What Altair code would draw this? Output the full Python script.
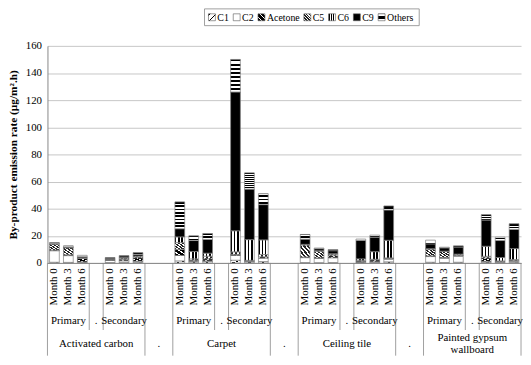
import altair as alt
import pandas as pd

# ---------------- data ----------------
materials = ["Activated carbon", "Carpet", "Ceiling tile", "Painted gypsum\nwallboard"]
groups = ["Primary", "Secondary"]
months = ["Month 0", "Month 3", "Month 6"]
series = ["C1", "C2", "Acetone", "C5", "C6", "C9", "Others"]
y_ticks = [0, 20, 40, 60, 80, 100, 120, 140, 160]

# one value per bar, ordered material -> Primary/Secondary -> Month 0/3/6
C1 = [0.5, 0.4, 0.5, 0.3, 0.4, 0.5,
      1.5, 0.8, 1.0, 2.0, 0.8, 1.0,
      0.3, 0.2, 0.3, 0.3, 0.4, 0.8,
      0.5, 0.3, 0.5, 0.6, 0.4, 0.5]
C2 = [8.5, 5.0, 0.3, 1.5, 1.2, 0.8,
      4.0, 0.5, 0.5, 3.5, 0.5, 2.5,
      3.6, 3.2, 3.5, 0.3, 0.5, 2.0,
      4.2, 3.2, 4.5, 0.6, 0.3, 0.8]
Acetone = [0.5, 0.6, 2.5, 0.3, 1.0, 2.5,
           4.5, 0.7, 1.5, 0.7, 0.3, 1.0,
           0.5, 0.3, 1.5, 0.7, 1.3, 0.6,
           0.5, 0.5, 0.5, 2.5, 0.4, 0.6]
C5 = [4.5, 5.2, 0.5, 0.3, 1.0, 0.8,
      5.0, 1.0, 2.0, 2.0, 0.3, 1.7,
      8.8, 5.0, 1.0, 0.5, 0.5, 0.3,
      5.0, 4.5, 0.5, 1.2, 0.4, 0.6]
C6 = [0.0, 0.2, 0.0, 0.2, 0.2, 0.5,
      4.2, 5.4, 2.2, 15.5, 15.3, 10.8,
      0.5, 0.3, 0.5, 1.2, 5.6, 13.0,
      0.3, 0.2, 0.5, 7.4, 2.5, 8.1]
C9 = [0.3, 0.4, 0.8, 0.6, 0.6, 1.2,
      6.0, 8.1, 10.1, 102.3, 37.2, 26.0,
      3.8, 1.5, 2.2, 13.6, 10.7, 22.3,
      3.5, 2.4, 5.2, 19.3, 12.5, 14.1]
Others = [0.7, 0.8, 1.0, 0.8, 1.0, 1.3,
          19.8, 3.5, 4.4, 24.0, 12.0, 8.0,
          3.5, 0.5, 0.8, 1.0, 1.5, 3.0,
          2.8, 0.5, 0.9, 4.0, 2.5, 4.2]
values = {"C1": C1, "C2": C2, "Acetone": Acetone, "C5": C5,
          "C6": C6, "C9": C9, "Others": Others}

# ---------------- layout / style ----------------
FONT = "Liberation Serif"
GRID = "#c6c6c6"
AXISC = "#868686"
W, H = 480, 220
NM = len(months)
BLOCK = 2 * NM + 1                 # slots per material (incl. '.' slot)
GAP = 2                            # empty slots between materials
STEP = BLOCK + GAP
N = len(materials) * STEP - GAP
SW = W / N                         # slot width in px
PX2Y = (y_ticks[-1] - y_ticks[0]) / H   # data units per pixel


def slot_of(m, g, k):
    return m * STEP + g * (NM + 1) + k


rows = []
bar_i = 0
for m in range(len(materials)):
    for g in range(len(groups)):
        for k in range(NM):
            for s_i, s in enumerate(series):
                rows.append(dict(slot=slot_of(m, g, k), series=s, order=s_i,
                                 value=values[s][bar_i]))
            bar_i += 1
df = pd.DataFrame(rows)

slot_labels = [""] * N
for m in range(len(materials)):
    for g in range(len(groups)):
        for k, mo in enumerate(months):
            slot_labels[slot_of(m, g, k)] = mo
label_expr = "[" + ",".join("'%s'" % l for l in slot_labels) + "][datum.value]"


def stripes(bg, line, n, frac, x1, y1, x2, y2):
    st = []
    for i in range(n):
        a, b, c = i / n, (i + frac) / n, (i + 1) / n
        st += [(a, line), (b, line), (b, bg), (c, bg)]
    return alt.LinearGradient(
        gradient="linear",
        stops=[alt.GradientStop(color=col, offset=round(o, 4)) for o, col in st],
        x1=x1, y1=y1, x2=x2, y2=y2)


fills = {
    "C1": stripes("#ffffff", "#000000", 2, 0.25, 0, 0, 1, 1),
    "C2": "#ffffff",
    "Acetone": stripes("#000000", "#ffffff", 3, 0.3, 1, 0, 0, 1),
    "C5": stripes("#ffffff", "#222222", 5, 0.55, 0, 1, 1, 0),
    "C6": stripes("#ffffff", "#000000", 3, 0.45, 0, 0, 1, 0),
    "C9": "#000000",
    "Others": stripes("#ffffff", "#000000", 8, 0.5, 0, 0, 0, 1),
}

xband = alt.Scale(domain=list(range(N)), paddingInner=0.3, paddingOuter=0.15)
xaxis = alt.Axis(title=None, labelExpr=label_expr, labelAngle=270, ticks=False,
                 domainColor=AXISC, labelFont=FONT, labelFontSize=11,
                 labelColor="#000000", labelPadding=5, grid=False)
yscale = alt.Scale(domain=[y_ticks[0], y_ticks[-1]], nice=False)
yaxis = alt.Axis(title="By-product emission rate (μg/m².h)", values=y_ticks,
                 titleFont=FONT, titleFontSize=11.5, titleFontWeight="bold",
                 titleColor="#000000", titlePadding=7,
                 labelFont=FONT, labelFontSize=11, labelColor="#000000",
                 labelPadding=6, ticks=False, domainColor=AXISC,
                 gridColor=GRID, gridWidth=1)


def X(field="slot:O"):
    return alt.X(field, scale=xband, axis=xaxis)


def Y(field):
    return alt.Y(field, scale=yscale, axis=yaxis)


base = alt.Chart(df).transform_stack(
    stack="value", groupby=["slot"],
    sort=[alt.SortField("order", order="ascending")], as_=["y0", "y1"])

layers = []
for s in series:
    layers.append(
        base.transform_filter(alt.datum.series == s)
        .mark_bar(fill=fills[s], stroke="#7f7f7f", strokeWidth=0.7)
        .encode(x=X(), y=Y("y0:Q"), y2="y1:Q"))

# category separators (left / right edges of slots) and group labels
full_left, full_right, grp_left, grp_right = [], [], [], []
grp_rows, mat_rows, mat_dots = [], [], []
for m, mat in enumerate(materials):
    s0 = m * STEP
    full_left.append(s0)
    full_right.append(s0 + BLOCK - 1)
    grp_left.append(s0 + NM)
    grp_right.append(s0 + NM)
    grp_rows += [dict(slot=s0 + NM // 2, t=groups[0]),
                 dict(slot=s0 + NM, t="."),
                 dict(slot=s0 + NM + 1 + NM // 2, t=groups[1])]
    lines = mat.split("\n")
    for j, ln in enumerate(lines):
        mat_rows.append(dict(slot=s0 + BLOCK // 2, t=ln, j=j, n=len(lines)))
    if m < len(materials) - 1:
        mat_dots.append(dict(slot=s0 + BLOCK, t="."))
mat_df = pd.DataFrame(mat_rows)


def sep_layer(slots, side, length):
    # separator lines below the axis, extending `length` px under the baseline
    d = pd.DataFrame({"slot": slots, "ya": 0.0, "yb": -length * PX2Y})
    return alt.Chart(d).mark_rule(
        color=AXISC, strokeWidth=0.8, xOffset=side * SW / 2).encode(
        x=X(), y=Y("ya:Q"), y2="yb:Q")


layers += [sep_layer(full_left, -1, 94), sep_layer(full_right, 1, 94),
           sep_layer(grp_left, -1, 68), sep_layer(grp_right, 1, 68)]

layers.append(alt.Chart(pd.DataFrame(grp_rows)).mark_text(
    font=FONT, fontSize=11, color="#000000", baseline="middle").encode(
    x=X(), y=alt.value(H + 59), text="t:N"))

MAT_Y, LH = H + 82, 12
for (j, n) in sorted(set(zip(mat_df["j"], mat_df["n"]))):
    layers.append(alt.Chart(mat_df).transform_filter(
        (alt.datum.j == int(j)) & (alt.datum.n == int(n))).mark_text(
        font=FONT, fontSize=11, color="#000000", baseline="middle").encode(
        x=X(), y=alt.value(MAT_Y + (j - (n - 1) / 2) * LH), text="t:N"))
layers.append(alt.Chart(pd.DataFrame(mat_dots)).mark_text(
    font=FONT, fontSize=11, color="#000000", baseline="middle",
    xOffset=SW / 2).encode(
    x=X(), y=alt.value(MAT_Y), text="t:N"))

# legend (custom, to show the pattern fills)
LFS = 10


def text_w(s):
    w = 0
    for ch in s:
        w += 0.66 if ch.isupper() else (0.5 if ch.isdigit() else 0.44)
    return w * LFS


ICON, IGAP, ITEM_GAP = 7, 2, 4.5
total = sum(ICON + IGAP + text_w(s) for s in series) + ITEM_GAP * (len(series) - 1)
cx = 316 - 48
LY = -29
one = pd.DataFrame({"a": [0]})
layers.append(alt.Chart(one).mark_rect(
    fill="#ffffff", stroke="#868686", strokeWidth=0.8).encode(
    x=alt.value(cx - total / 2 - 4), x2=alt.value(cx + total / 2 + 4),
    y=alt.value(LY - 8.5), y2=alt.value(LY + 8.5)))
x = cx - total / 2
for s in series:
    layers.append(alt.Chart(one).mark_rect(
        fill=fills[s], stroke="#555555", strokeWidth=0.6).encode(
        x=alt.value(x), x2=alt.value(x + ICON),
        y=alt.value(LY - ICON / 2), y2=alt.value(LY + ICON / 2)))
    layers.append(alt.Chart(one).mark_text(
        font=FONT, fontSize=LFS, color="#000000", align="left",
        baseline="middle").encode(
        x=alt.value(x + ICON + IGAP), y=alt.value(LY + 0.5), text=alt.value(s)))
    x += ICON + IGAP + text_w(s) + ITEM_GAP

chart = alt.layer(*layers).properties(
    width=W, height=H,
    autosize=alt.AutoSizeParams(type="none"),
    padding={"left": 40, "top": 36, "right": 2, "bottom": 96},
    background="#ffffff",
).configure_view(stroke=None)

chart.save("out.html", embed_options={"renderer": "svg", "actions": False})
